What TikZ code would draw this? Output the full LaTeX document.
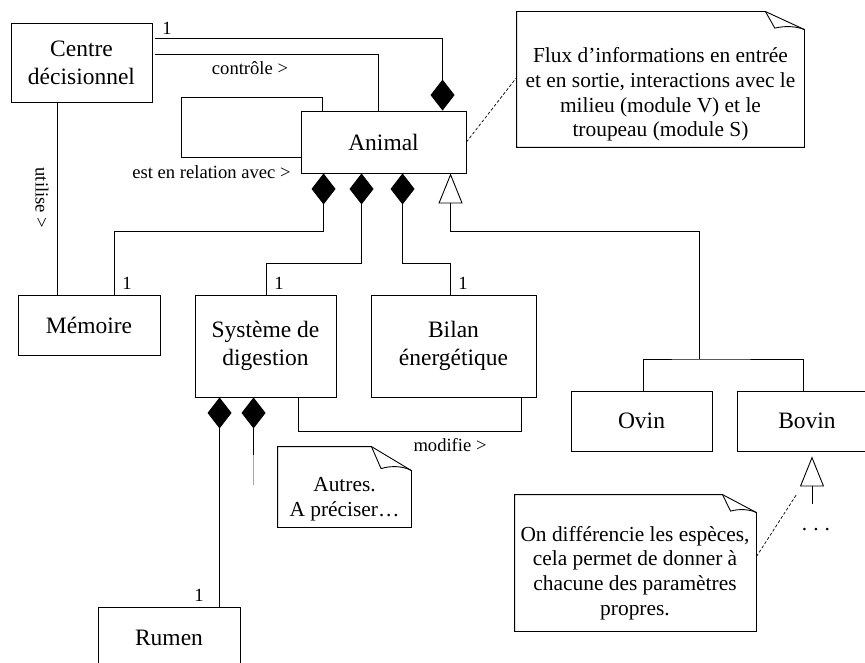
\documentclass[tikz,border=0pt]{standalone}
\usepackage{fontspec}
\setmainfont{Liberation Serif}
\usetikzlibrary{arrows.meta,calc}

% UML note with a folded top-right corner, drawn around a named node
% #1 node name, #2 fold width, #3 fold height
\newcommand\foldnote[3]{%
  \draw ($(#1.north east)+(-#2,0)$) -- (#1.north west) -- (#1.south west)
        -- (#1.south east) -- ($(#1.north east)+(0,#3)$) -- cycle;
  \draw ($(#1.north east)+(-#2,0)$) -- ($(#1.north east)+({-0.76*#2},{0.92*#3})$)
        .. controls ($(#1.north east)+({-0.5*#2},{0.78*#3})$) and ($(#1.north east)+({-0.2*#2},{0.82*#3})$)
        .. ($(#1.north east)+(0,#3)$);
}

\begin{document}
\begin{tikzpicture}[x=1pt,y=-1pt,line width=0.9pt,
  cls/.style={draw,rectangle,inner sep=0pt,align=center,font=\fontsize{23.5}{28}\selectfont},
  notebox/.style={rectangle,inner sep=0pt},
  notetext/.style={align=center,inner sep=0pt,font=\fontsize{21.4}{24.6}\selectfont},
  lbl/.style={inner sep=0pt,font=\fontsize{18.6}{22}\selectfont},
  comp/.style={{Diamond[width=24pt,length=31pt]}-},
  gen/.style={{Triangle[open,width=24pt,length=30pt]}-},
  notelink/.style={dash pattern=on 3pt off 2pt,line width=0.7pt}]

\clip (0,0) rectangle (865,663);

% classes
\node[cls,minimum width=141pt,minimum height=79pt] (centre) at (81.5,62.5) {Centre\\décisionnel};
\node[cls,minimum width=165pt,minimum height=62pt] (animal) at (383.5,142) {Animal};
\node[cls,minimum width=142pt,minimum height=60pt] (memoire) at (89,325) {Mémoire};
\node[cls,minimum width=141pt,minimum height=102pt] (systeme) at (265.5,346) {Système de\\digestion};
\node[cls,minimum width=165pt,minimum height=102pt] (bilan) at (453.5,346) {Bilan\\énergétique};
\node[cls,minimum width=141pt,minimum height=60pt] (ovin) at (641.5,421) {Ovin};
\node[cls,minimum width=140pt,minimum height=60pt] (bovin) at (807,421) {Bovin};
\node[cls,minimum width=142pt,minimum height=62pt] (rumen) at (169,638) {Rumen};

% notes
\node[notebox,minimum width=287pt,minimum height=135pt] (note1) at (660.5,79.5) {};
\node[notetext] (note1txt) at (660.5,94.5) {Flux d’informations en entrée\\et en sortie, interactions avec le\\milieu (module V) et le\\troupeau (module S)};
\foldnote{note1}{39}{18}

\node[notebox,minimum width=241pt,minimum height=136pt] (note2) at (635.5,563) {};
\node[notetext] (note2txt) at (635,573) {On différencie les espèces,\\cela permet de donner à\\chacune des paramètres\\propres.};
\foldnote{note2}{34}{18}

\node[notebox,minimum width=133pt,minimum height=80pt] (note3) at (344.5,487) {};
\node[notetext] (note3txt) at (344.5,499) {Autres.\\A préciser…};
\foldnote{note3}{40}{24}

% associations from the decision centre
\draw[comp] ($(animal.north west)+(142,0)$) |- ($(centre.north east)+(3,16)$);
\node[lbl] (m1) at (167,28) {1};
\draw ($(centre.north east)+(3,32)$) -| ($(animal.north west)+(78,0)$);
\node[lbl] (lcontrole) at (250,68) {contrôle >};
\draw ($(centre.south west)+(47,0)$) -- ($(memoire.north west)+(40,0)$);
\node[lbl,rotate=-90] (lutilise) at (42,198) {utilise >};

% reflexive association of Animal
\draw ($(animal.north west)+(22,0)$) |- ($(animal.north west)+(-119,-13)$) |- ($(animal.west)+(0,15)$);
\node[lbl,anchor=east] (lrelation) at (291,172) {est en relation avec >};

% compositions of Animal
\draw[comp] ($(animal.south west)+(23,0)$) -- ++(0,58) -| ($(memoire.north west)+(97,0)$);
\node[lbl] (m2) at (127,283) {1};
\draw[comp] ($(animal.south west)+(61,0)$) -- ++(0,90) -| ($(systeme.north west)+(72,0)$);
\node[lbl] (m3) at (279,283) {1};
\draw[comp] ($(animal.south west)+(102,0)$) -- ++(0,90) -| ($(bilan.north west)+(80,0)$);
\node[lbl] (m4) at (463,283) {1};

% specialisation into species
\coordinate (gsplit) at (699,359);
\draw[gen] ($(animal.south west)+(150,0)$) -- ++(0,58) -| (gsplit);
\draw ($(ovin.north)+(1.5,0)$) |- (gsplit) -| ($(bovin.north)+(-4,0)$);
\draw[gen] ($(bovin.south)+(5,5)$) -- ++(0,48);
\node[notetext] (etc) at (816,530) {.\hspace{6pt}.\hspace{6pt}.};

% digestion system
\draw ($(systeme.south west)+(104,0)$) -- ++(0,34) -| ($(bilan.south west)+(151,0)$);
\node[lbl] (lmodifie) at (450,445) {modifie >};
\draw[comp] ($(systeme.south west)+(25,0)$) -- ($(rumen.north west)+(122,0)$);
\node[lbl] (m5) at (199,595) {1};
\draw[comp] ($(systeme.south west)+(59,0)$) -- ++(0,58) coordinate (otherend);
\draw[black!35] (otherend) -- ++(0,30);

% note links
\draw[notelink] (animal.east) -- ($(note1.north west)+(0,66)$);
\draw[notelink] ($(note2.north east)+(0,62)$) -- ++(40,-62);
\end{tikzpicture}
\end{document}
